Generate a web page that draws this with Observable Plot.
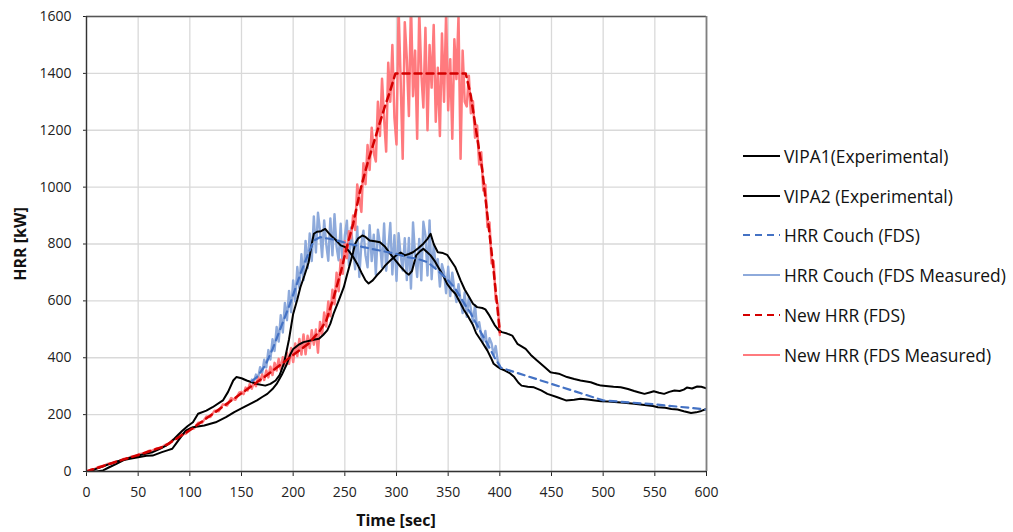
<!DOCTYPE html>
<html><head><meta charset="utf-8">
<script src="https://cdn.jsdelivr.net/npm/d3@7"></script>
<script src="https://cdn.jsdelivr.net/npm/@observablehq/plot@0.6"></script>
<style>
body{margin:0;background:#fff;}
#wrap{position:relative;width:1013px;height:532px;font-family:"Open Sans",sans-serif;overflow:hidden;}
#legend{position:absolute;left:743px;top:136px;}
.row{display:flex;align-items:center;height:39.8px;font-size:17.4px;color:#111;white-space:nowrap;}
.row svg{margin-right:3px;flex:none;}
.ytitle{position:absolute;left:20px;top:244px;transform:translate(-50%,-50%) rotate(-90deg);font-weight:bold;font-size:16px;color:#111;white-space:nowrap;}
.xtitle{position:absolute;left:396px;top:520px;transform:translate(-50%,-50%);font-weight:bold;font-size:16px;color:#111;white-space:nowrap;}
</style></head><body>
<div id="wrap"><div id="legend"></div><div class="ytitle">HRR [kW]</div><div class="xtitle">Time [sec]</div></div>
<script>
// ---- axes ----
const xTicks = [0,50,100,150,200,250,300,350,400,450,500,550,600];
const yTicks = [0,200,400,600,800,1000,1200,1400,1600];

// ---- VIPA1 (Experimental) ----
const vipa1Time = [0,5,10,16,22,27,32,38,44,50,57,64,70,77,81,85,89,93,98,103,108,116,122,132,137,142,145,150,155,160,165,173,178,183,187,191,194,196,198,200,204,207,211,215,218,220,223,227,231,234,237,241,246,250,254,258,262,266,270,273,277,281,285,289,294,299,304,308,312,316,321,326,330,333,336,340,345,349,353,357,362,366,370,374,378,383,386,390,395,399,402,407,412,417,421,425,430,436,443,449,453,457,465,472,478,488,494,498,505,510,517,524,530,535,540,545,549,554,559,564,569,574,578,581,586,591,595,600];
const vipa1HRR = [0,4,10,18,26,32,38,44,50,56,62,68,78,91,102,115,130,144,160,173,203,214,226,250,280,320,332,328,320,314,308,302,308,320,340,379,430,465,510,554,605,648,690,736,800,836,843,845,853,840,828,815,795,790,775,755,730,700,672,661,672,690,705,724,742,758,770,760,765,771,785,801,818,836,800,771,768,762,740,718,672,640,615,590,578,575,570,548,515,496,490,485,478,449,440,431,410,390,368,349,346,344,332,325,320,314,306,302,300,298,296,290,283,278,273,278,282,277,273,280,285,283,288,295,292,299,298,292];

// ---- VIPA2 (Experimental) ----
const vipa2Time = [0,10,16,22,29,36,42,50,58,64,73,79,83,87,90,96,103,114,125,135,143,149,157,165,170,175,180,184,189,194,197,200,205,210,217,221,225,229,233,236,239,244,249,252,255,258,260,263,267,270,274,279,284,289,294,299,304,309,312,315,319,323,326,330,333,337,341,345,349,353,357,361,365,370,374,377,382,388,392,394,398,401,405,410,414,418,421,427,433,440,446,455,464,472,478,485,492,498,505,511,520,530,540,548,553,560,566,572,578,585,590,595,600];
const vipa2HRR = [0,0,4,15,27,40,45,50,55,56,68,75,80,100,115,144,156,162,173,191,209,220,235,250,262,273,290,308,340,379,410,431,445,455,461,464,467,480,496,520,554,600,648,690,730,770,801,820,830,825,812,810,806,790,765,742,720,700,692,705,760,775,783,770,760,740,715,690,660,640,625,598,570,541,515,487,460,425,395,379,368,361,355,345,332,312,302,298,296,285,273,262,250,252,256,253,250,247,246,244,242,238,234,230,226,224,220,218,212,206,208,213,220];

// ---- HRR Couch (FDS) ----
const couchTime = [160,165,173,180,187,197,207,214,220,226,240,255,268,284,300,310,320,330,340,348,356,364,372,380,388,395,401,500,550,600];
const couchHRR = [318,332,373,430,496,590,695,760,812,824,815,800,789,777,765,754,748,736,707,680,648,600,555,500,449,400,365,250,236,218];

// ---- HRR Couch (FDS Measured): every 2 s from 160 s ----
const couchMeasStart = 160, couchMeasStep = 2;
const couchMeasHRR = [
323,316,341,327,367,346,393,366,427,394,
465,424,508,457,550,489,593,532,635,560,
672,598,719,645,764,673,811,715,837,740,
897,770,910,845,754,883,800,741,890,760,
905,790,743,871,709,830,882,725,858,780,
711,861,684,800,847,760,718,866,740,833,
692,850,800,719,872,706,780,874,693,831,
670,838,760,707,820,673,821,643,876,760,
684,818,672,878,830,689,883,676,798,720,
747,650,729,700,627,720,617,699,640,596,
659,600,557,630,544,613,570,526,585,501,
525,479,457,494,432,469,450,410,441,387,
371];

// ---- New HRR (FDS) ----
const newTime = [0,25,50,75,100,125,150,175,200,215,226,232,239,246,252,258,265,272,280,288,294,299,367,372,377,383,388,393,397,400];
const newHRR = [0,30,58,88,145,210,275,340,410,450,496,530,610,700,790,870,990,1085,1180,1275,1340,1400,1400,1320,1200,1060,900,740,600,490];

// ---- New HRR (FDS Measured): every 4 s from 0 s, then every 2 s from 150 s ----
const newMeasEarlyStart = 0, newMeasEarlyStep = 4;
const newMeasEarlyHRR = [0,6,9,16,18,26,28,35,37,44,46,53,55,62,64,72,74,81,83,93,97,112,115,131,133,150,151,171,172,193,192,214,212,236,232,258,252,278];
const newMeasLateStart = 150, newMeasLateStep = 2;
const newMeasLateHRR = [
280,272,295,285,308,291,314,300,332,317,
341,322,355,331,368,339,382,355,396,358,
402,373,418,379,434,385,450,406,466,411,
482,412,477,434,497,446,499,418,526,482,
559,510,598,546,639,588,699,634,745,695,
810,750,845,820,900,849,1009,960,913,1084,
1010,1148,1060,1209,1120,1090,1300,1180,1381,1240,
1125,1437,1300,1500,1244,1150,1630,1380,1100,1580,
1450,1250,1650,1320,1480,1170,1620,1400,1280,1560,
1200,1500,1350,1570,1230,1420,1180,1540,1300,1610,
1270,1450,1170,1520,1380,1600,1100,1480,1300,1284,
1392,1260,1302,1174,1217,1080,1123,988,1009,860,
876,732,740,605,588,480];

const legendNames = ["VIPA1(Experimental)","VIPA2 (Experimental)","HRR Couch (FDS)","HRR Couch (FDS Measured)","New HRR (FDS)","New HRR (FDS Measured)"];

// ---- build tables ----
const pair = (ts, vs) => ts.map((t, i) => ({t, v: vs[i]}));
const stepped = (start, step, vs) => vs.map((v, i) => ({t: start + step * i, v}));
const vipa1 = pair(vipa1Time, vipa1HRR);
const vipa2 = pair(vipa2Time, vipa2HRR);
const couch = pair(couchTime, couchHRR);
const couchMeas = stepped(couchMeasStart, couchMeasStep, couchMeasHRR);
const newFds = pair(newTime, newHRR);
const newMeas = stepped(newMeasEarlyStart, newMeasEarlyStep, newMeasEarlyHRR).concat(stepped(newMeasLateStart, newMeasLateStep, newMeasLateHRR));

const styles = [
  {stroke:"#000000", strokeWidth:2},
  {stroke:"#000000", strokeWidth:2},
  {stroke:"#4472c4", strokeWidth:2.2, strokeDasharray:"7,5"},
  {stroke:"#8eaadb", strokeWidth:2.4},
  {stroke:"#d40000", strokeWidth:2.5, strokeDasharray:"7,5"},
  {stroke:"#ff7a7e", strokeWidth:2.5}
];

const chart = Plot.plot({
  width: 1013, height: 532,
  marginLeft: 86, marginRight: 307, marginTop: 16, marginBottom: 61,
  style: {fontFamily: '"Open Sans", sans-serif', fontSize: "14px", color: "#222", background: "#fff"},
  x: {domain: [0, 600], ticks: xTicks, tickSize: 5, tickPadding: 11, tickFormat: d3.format("d"), label: null},
  y: {domain: [0, 1600], ticks: yTicks, tickSize: 3, tickPadding: 12, tickFormat: d3.format("d"), label: null},
  marks: [
    Plot.ruleX(xTicks, {stroke: "#d9d9d9", strokeWidth: 1.3}),
    Plot.ruleY(yTicks, {stroke: "#d9d9d9", strokeWidth: 1.3}),
    Plot.line(couchMeas, {x: "t", y: "v", ...styles[3], clip: true}),
    Plot.line(newMeas, {x: "t", y: "v", ...styles[5], clip: true}),
    Plot.line(vipa1, {x: "t", y: "v", ...styles[0], clip: true}),
    Plot.line(vipa2, {x: "t", y: "v", ...styles[1], clip: true}),
    Plot.line(couch, {x: "t", y: "v", ...styles[2], clip: true}),
    Plot.line(newFds, {x: "t", y: "v", ...styles[4], clip: true}),
    Plot.ruleY([1600], {stroke: "#555", strokeWidth: 1.3}),
    Plot.ruleX([600], {stroke: "#808080", strokeWidth: 1.8}),
    Plot.ruleX([0], {stroke: "#333", strokeWidth: 1.4}),
    Plot.ruleY([0], {stroke: "#333", strokeWidth: 1.4})
  ]
});
document.getElementById("wrap").prepend(chart);

// ---- legend ----
const leg = document.getElementById("legend");
legendNames.forEach((name, i) => {
  const s = styles[i];
  const row = document.createElement("div");
  row.className = "row";
  row.innerHTML = `<svg width="38" height="10"><line x1="0" y1="5" x2="37" y2="5" stroke="${s.stroke}" stroke-width="${Math.min(s.strokeWidth,2.2)}" ${s.strokeDasharray ? `stroke-dasharray="7,5"` : ""}/></svg><span>${name}</span>`;
  leg.appendChild(row);
});
</script>
</body></html>
